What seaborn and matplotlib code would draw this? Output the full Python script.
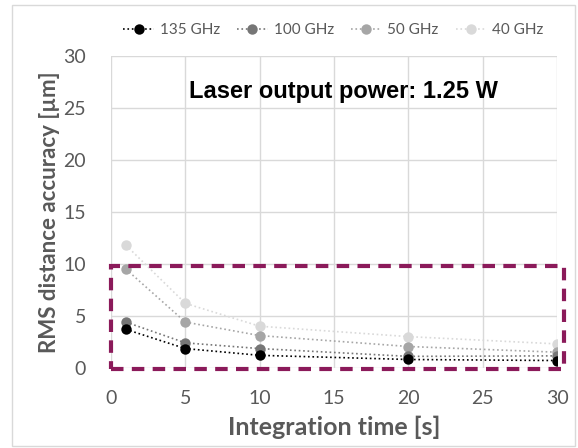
import matplotlib
matplotlib.use("Agg")
import matplotlib.pyplot as plt
import seaborn as sns
import pandas as pd
from matplotlib.patches import Rectangle
from matplotlib.lines import Line2D

times = [1, 5, 10, 20, 30]
labels = ["135 GHz", "100 GHz", "50 GHz", "40 GHz"]
v135 = [3.7, 1.85, 1.2, 0.8, 0.7]
v100 = [4.4, 2.4, 1.85, 1.1, 1.15]
v50 = [9.5, 4.4, 3.1, 2.05, 1.5]
v40 = [11.8, 6.2, 4.0, 3.0, 2.3]
colors = ["#000000", "#767676", "#A6A6A6", "#D9D9D9"]

rows = []
for lab, vals in zip(labels, [v135, v100, v50, v40]):
    for t, v in zip(times, vals):
        rows.append({"t": t, "v": v, "f": lab})
df = pd.DataFrame(rows)

sns.set_theme(style="white")
plt.rcParams["font.family"] = ["Lato", "DejaVu Sans"]

fig = plt.figure(figsize=(5.78, 4.48), dpi=100)
ax = fig.add_axes([0.192, 0.179, 0.772, 0.696])

for lab, col in zip(labels[::-1], colors[::-1]):
    sub = df[df.f == lab]
    sns.lineplot(data=sub, x="t", y="v", ax=ax, color=col, marker="o",
                 markersize=7.5, markeredgewidth=0, linestyle=":", linewidth=1.2,
                 label=lab, legend=False)

ax.set_xlim(0, 30)
ax.set_ylim(0, 30)
ax.set_xticks(range(0, 31, 5))
ax.set_yticks(range(0, 31, 5))
ax.grid(True, color="#D9D9D9", linewidth=1)
for s in ax.spines.values():
    s.set_visible(False)
ax.tick_params(axis="both", length=0, labelsize=14, labelcolor="#595959")
ax.tick_params(axis="x", pad=16)
ax.tick_params(axis="y", pad=18)
ax.set_xlabel("Integration time [s]", fontsize=18, fontweight="bold", color="#595959", labelpad=6)
ax.set_ylabel("RMS distance accuracy [µm]", fontsize=16, fontweight="bold", color="#595959", labelpad=2)

ax.text(15.6, 26.6, "Laser output power: 1.25 W", ha="center", va="center",
        fontsize=17, fontweight="bold", color="black", family=["Liberation Sans", "DejaVu Sans"])

rect = Rectangle((0, -0.1), 30.45, 9.9, fill=False, edgecolor="#8B1A5A",
                 linestyle=(0, (3, 2)), linewidth=3, clip_on=False, zorder=5)
ax.add_patch(rect)

handles = [Line2D([0], [0], color=c, linestyle=":", linewidth=1.2, marker="o",
                  markersize=7.5, markeredgewidth=0) for c in colors]
fig.legend(handles, labels, loc="center", bbox_to_anchor=(0.577, 0.932), ncol=4,
           frameon=False, fontsize=11, labelcolor="#595959", handlelength=2.0,
           handletextpad=0.4, columnspacing=1.1)

border = Rectangle((0.021, 0.005), 0.974, 0.983, transform=fig.transFigure,
                   fill=False, edgecolor="#D9D9D9", linewidth=1)
fig.patches.append(border)

fig.savefig("out.png", dpi=100)
